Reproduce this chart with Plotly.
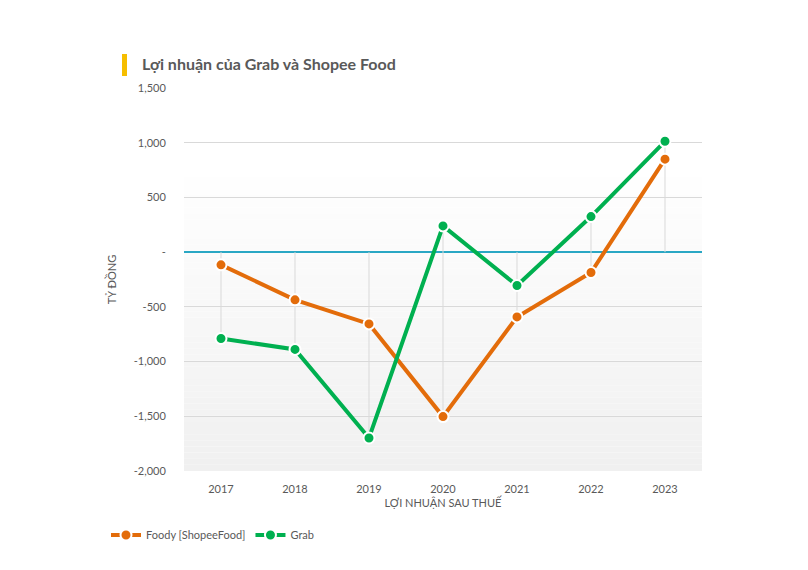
import plotly.graph_objects as go

years = ["2017", "2018", "2019", "2020", "2021", "2022", "2023"]
foody = [-116, -436, -656, -1503, -592, -186, 850]
grab = [-789, -889, -1698, 240, -305, 325, 1013]

y_tickvals = [1500, 1000, 500, 0, -500, -1000, -1500, -2000]
y_ticktext = ["1,500", "1,000", "500", "-", "-500", "-1,000", "-1,500", "-2,000"]

title_text = "Lợi nhuận của Grab và Shopee Food"
y_title = "TỶ ĐỒNG"
x_title = "LỢI NHUẬN SAU THUẾ"

W, H = 808, 570
L, R, T, B = 184, 106, 88, 99
PW, PH = W - L - R, H - T - B

def px_x(x):
    return (x - L) / PW

def px_y(y):
    return (H - B - y) / PH

FONT = "Lato, Carlito, Calibri, sans-serif"
GREY = "#595959"
ORANGE = "#E36C0A"
GREEN = "#00B050"

fig = go.Figure()

# drop lines from each point to the zero axis
dx, dy = [], []
for i, yr in enumerate(years):
    lo = min(0, foody[i], grab[i])
    hi = max(0, foody[i], grab[i])
    dx += [yr, yr, None]
    dy += [lo, hi, None]
fig.add_trace(go.Scatter(x=dx, y=dy, mode="lines", line=dict(color="#d9d9d9", width=1),
                         showlegend=False, hoverinfo="skip"))

fig.add_trace(go.Scatter(x=years, y=foody, name="Foody [ShopeeFood]", mode="lines+markers",
                         line=dict(color=ORANGE, width=4),
                         marker=dict(size=11, color=ORANGE, line=dict(color="white", width=2))))
fig.add_trace(go.Scatter(x=years, y=grab, name="Grab", mode="lines+markers",
                         line=dict(color=GREEN, width=4),
                         marker=dict(size=11, color=GREEN, line=dict(color="white", width=2))))

# gradient background bands
shapes = []
n = 50
start = 0.8
for k in range(n):
    y0 = start * k / n
    y1 = start * (k + 1) / n
    t = 1 - (k + 0.5) / n  # 1 at bottom, 0 at start
    v = int(round(255 - 15 * t))
    shapes.append(dict(type="rect", xref="x domain", yref="y domain", x0=0, x1=1, y0=y0, y1=y1,
                       fillcolor=f"rgb({v},{v},{v})", line=dict(width=0), layer="below"))
# title marker bar
shapes.append(dict(type="rect", xref="paper", yref="paper",
                   x0=px_x(122), x1=px_x(127), y0=px_y(76), y1=px_y(54),
                   fillcolor="#F6BE00", line=dict(width=0)))

fig.update_layout(
    width=W, height=H,
    margin=dict(l=L, r=R, t=T, b=B),
    paper_bgcolor="white", plot_bgcolor="white",
    font=dict(family=FONT, color=GREY, size=11),
    shapes=shapes,
    showlegend=True,
    legend=dict(orientation="h", x=px_x(106), y=px_y(535), yanchor="middle", xanchor="left",
                font=dict(size=11, color=GREY), itemwidth=30, tracegroupgap=0,
                bgcolor="rgba(0,0,0,0)"),
    annotations=[dict(text="<b>" + title_text + "</b>", xref="paper", yref="paper", x=px_x(140), y=px_y(63),
                      xanchor="left", yanchor="middle", showarrow=False,
                      font=dict(size=16, color=GREY, family=FONT))],
    hovermode=False,
)

fig.update_xaxes(type="category", range=[-0.5, 6.5], showgrid=False, showline=False, zeroline=False,
                 ticks="outside", ticklen=8, tickcolor="rgba(0,0,0,0)",
                 tickfont=dict(size=11, color=GREY),
                 title=dict(text=x_title, font=dict(size=11, color=GREY), standoff=4))
fig.update_yaxes(range=[-2000, 1500], tickvals=y_tickvals, ticktext=y_ticktext,
                 showgrid=True, gridcolor="#d9d9d9", gridwidth=1,
                 zeroline=True, zerolinecolor="#2AA7C4", zerolinewidth=1.5,
                 showline=False, ticks="outside", ticklen=15, tickcolor="rgba(0,0,0,0)",
                 tickfont=dict(size=11, color=GREY),
                 title=dict(text=y_title, font=dict(size=11, color=GREY), standoff=14))

fig.write_html("out.html")
